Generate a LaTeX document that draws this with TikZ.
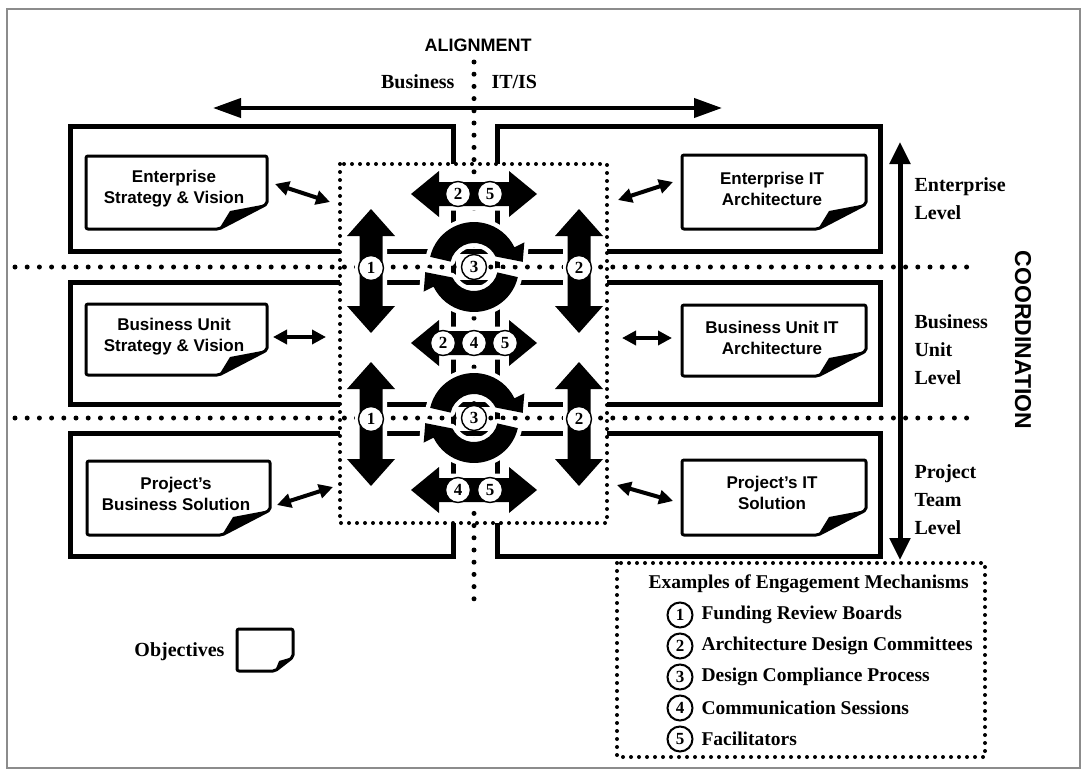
\documentclass[tikz,border=0pt]{standalone}
\usepackage{fontspec}
\setmainfont{Liberation Serif}
\setsansfont{Liberation Sans}
\usetikzlibrary{arrows.meta}

\newcommand\lblfont{\sffamily\bfseries\fontsize{17}{21}\selectfont}
\newcommand\serfont{\rmfamily\bfseries\fontsize{20}{28}\selectfont}
\newcommand\legfont{\rmfamily\bfseries\fontsize{19.5}{24}\selectfont}
\newcommand\cnumfont{\rmfamily\bfseries\fontsize{17}{17}\selectfont}
\newcommand\titfont{\sffamily\bfseries\fontsize{18}{20}\selectfont}

% note sheet with a curled lower-right corner: x0,y0,x1,y1,fold width,fold height
\newcommand\notepage[6]{%
  \draw[notel] (#1,#2) -- (#3,#2) -- (#3,#4-#6) -- (#3-#5,#4) -- (#1,#4) -- cycle;
  \fill (#3-#5,#4) -- (#3-0.77*#5,#4-0.72*#6) -- (#3,#4-#6) -- cycle;}

% broad two-headed block arrows
\newcommand\hbig[2]{%
  \path[bigarr] (#1-63,#2) -- (#1-35,#2-23) -- (#1-35,#2-12) -- (#1+35,#2-12)
    -- (#1+35,#2-23) -- (#1+63,#2) -- (#1+35,#2+23) -- (#1+35,#2+12)
    -- (#1-35,#2+12) -- (#1-35,#2+23) -- cycle;}
\newcommand\vbig[2]{%
  \path[bigarr] (#1,#2-62) -- (#1+24,#2-35) -- (#1+11.5,#2-35) -- (#1+11.5,#2+35)
    -- (#1+24,#2+35) -- (#1,#2+62) -- (#1-24,#2+35) -- (#1-11.5,#2+35)
    -- (#1-11.5,#2-35) -- (#1-24,#2-35) -- cycle;}

% two curved arrows turning clockwise round a centre
\newcommand\cycleicon[2]{%
  \begin{scope}[shift={(#1,#2)}]
    \path[bigarr] (193:45) arc[start angle=193,end angle=334,radius=45]
      -- (334:56) -- (354:49) -- (334:24)
      arc[start angle=334,end angle=193,radius=24] -- cycle;
    \path[bigarr] (13:45) arc[start angle=13,end angle=154,radius=45]
      -- (154:56) -- (174:49) -- (154:24)
      arc[start angle=154,end angle=13,radius=24] -- cycle;
  \end{scope}}

\begin{document}
\begin{tikzpicture}[x=1pt,y=-1pt,
  quadl/.style={line width=5pt},
  notel/.style={line width=3pt, rounded corners=2pt, line join=round},
  bigarr/.style={fill=black, preaction={draw=white, line width=9pt, line join=round}},
  dotline/.style={line width=5pt, line cap=round, dash pattern=on 0pt off 12.2pt},
  dotbox/.style={line width=4pt, line cap=round, dash pattern=on 0pt off 8pt},
  numc/.style={circle, draw, line width=1.4pt, fill=white, minimum size=25pt, inner sep=0pt, font=\cnumfont},
  legc/.style={circle, draw, line width=2pt, fill=white, minimum size=25pt, inner sep=0pt, font=\cnumfont},
  lbl/.style={align=center, font=\lblfont},
  sarr/.style={{Triangle[length=14pt,width=14pt]}-{Triangle[length=14pt,width=14pt]}, line width=4pt},
  lvl/.style={anchor=west, align=left, font=\serfont}]

\useasboundingbox (0,0) rectangle (1085,771);
\fill[white] (0,0) rectangle (1085,771);

% outer frame
\draw[black!45, line width=1.2pt] (7,9) rectangle (1080,768);

% titles of the two axes
\node[font=\titfont] (alignment) at (478,45) {ALIGNMENT};
\node[anchor=east, font=\serfont] (business) at (458,82) {Business};
\node[anchor=west, font=\serfont] (itis) at (488,82) {IT/IS};
\coordinate (alL) at (213,108);
\coordinate (alR) at (722,108);
\draw[line width=4pt, {Triangle[length=28pt,width=19pt]}-{Triangle[length=28pt,width=19pt]}] (alL) -- (alR);

% level frames, business side and IT side
\draw[quadl] (70,126) rectangle (453,251);
\draw[quadl] (497,126) rectangle (880,251);
\draw[quadl] (70,282) rectangle (453,404);
\draw[quadl] (497,282) rectangle (880,404);
\draw[quadl] (70,433) rectangle (453,556);
\draw[quadl] (497,433) rectangle (880,556);

% central engagement zone
\fill[white] (340,164) rectangle (607,523);
\draw[quadl] (383,251) -- (567,251) (383,282) -- (567,282)
             (383,404) -- (567,404) (383,433) -- (567,433);
\draw[quadl] (453,200) -- (453,505) (497,200) -- (497,505);

% dotted dividers
\draw[dotline] (474,62) -- (474,600);
\draw[dotline] (15,267) -- (972,267);
\draw[dotline] (15,418) -- (972,418);

% engagement mechanisms
\hbig{474}{194}
\hbig{474}{343}
\hbig{474}{490}
\vbig{371}{271}
\vbig{579}{271}
\vbig{371}{424}
\vbig{579}{424}
\cycleicon{474}{267}
\cycleicon{474}{418}

\node[numc] (t2) at (458,194) {2};
\node[numc] (t5) at (490,194) {5};
\node[numc] (m2) at (443,343) {2};
\node[numc] (m4) at (474,343) {4};
\node[numc] (m5) at (505,343) {5};
\node[numc] (b4) at (458,490) {4};
\node[numc] (b5) at (490,490) {5};
\node[numc] (u1) at (371,268) {1};
\node[numc] (u2) at (579,268) {2};
\node[numc] (l1) at (371,419) {1};
\node[numc] (l2) at (579,419) {2};
\node[numc] (u3) at (474,267) {3};
\node[numc] (l3) at (474,418) {3};

\draw[dotbox] (340,164) rectangle (607,523);

% objectives
\notepage{86}{156}{267}{229}{48}{25}
\node[lbl] (esv) at (174,189) {Enterprise\\Strategy \& Vision};
\notepage{682}{155}{866}{229}{48}{25}
\node[lbl] (eia) at (772,189) {Enterprise IT\\Architecture};
\notepage{86}{304}{267}{375}{48}{25}
\node[lbl] (busv) at (174,337) {Business Unit\\Strategy \& Vision};
\notepage{682}{305}{866}{376}{48}{25}
\node[lbl] (buia) at (772,338) {Business Unit IT\\Architecture};
\notepage{87}{461}{270}{535}{48}{25}
\node[lbl] (pbs) at (176,494) {Project's\\Business Solution};
\notepage{682}{460}{866}{535}{48}{25}
\node[lbl] (pis) at (772,493) {Project's IT\\Solution};

% links between objectives and the engagement zone
\coordinate (a1) at (275,184); \coordinate (a2) at (330,202);
\coordinate (a3) at (618,200); \coordinate (a4) at (673,182);
\coordinate (a5) at (273,337); \coordinate (a6) at (326,337);
\coordinate (a7) at (622,338); \coordinate (a8) at (672,338);
\coordinate (a9) at (277,505); \coordinate (a10) at (333,487);
\coordinate (a11) at (617,485); \coordinate (a12) at (673,501);
\draw[sarr] (a1) -- (a2);
\draw[sarr] (a3) -- (a4);
\draw[sarr] (a5) -- (a6);
\draw[sarr] (a7) -- (a8);
\draw[sarr] (a9) -- (a10);
\draw[sarr] (a11) -- (a12);

% coordination axis
\coordinate (coT) at (900,142);
\coordinate (coB) at (900,560);
\draw[line width=5pt, {Triangle[length=22pt,width=20pt]}-{Triangle[length=22pt,width=20pt]}] (coT) -- (coB);
\node[lvl] (lev1) at (911,199) {Enterprise\\Level};
\node[lvl] (lev2) at (911,350) {Business\\Unit\\Level};
\node[lvl] (lev3) at (911,500) {Project\\Team\\Level};
\node[font=\sffamily\bfseries\fontsize{23}{25}\selectfont, rotate=-90] (coord) at (1023,340) {COORDINATION};

% key
\node[anchor=east, font=\serfont] (objl) at (228,652) {Objectives};
\notepage{237}{629}{293}{671}{18}{14}

\draw[dotbox] (617,563) rectangle (985,757);
\node[anchor=west, font=\legfont] (keyh) at (645,584) {Examples of Engagement Mechanisms};
\node[legc] (k1) at (680,615) {1};
\node[anchor=west, font=\legfont] (k1t) at (698,615) {Funding Review Boards};
\node[legc] (k2) at (680,646) {2};
\node[anchor=west, font=\legfont] (k2t) at (698,646) {Architecture Design Committees};
\node[legc] (k3) at (680,677) {3};
\node[anchor=west, font=\legfont] (k3t) at (698,677) {Design Compliance Process};
\node[legc] (k4) at (680,708) {4};
\node[anchor=west, font=\legfont] (k4t) at (698,708) {Communication Sessions};
\node[legc] (k5) at (680,739) {5};
\node[anchor=west, font=\legfont] (k5t) at (698,739) {Facilitators};
\end{tikzpicture}
\end{document}
